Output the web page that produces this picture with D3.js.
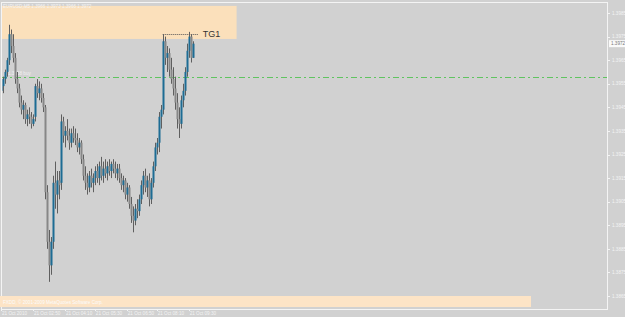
<!DOCTYPE html>
<html>
<head>
<meta charset="utf-8">
<script src="https://cdn.jsdelivr.net/npm/d3@7"></script>
<style>
body{margin:0;background:#d1d1d1;}
svg{display:block;}
text{font-family:"Liberation Sans",Arial,sans-serif;}
</style>
</head>
<body>
<svg id="chart" width="625" height="317"></svg>
<script>
// M5 bars
const symbol = "EURUSD,M5";
const open  = [1.3952,1.3954,1.3957,1.3960,1.3965,1.3976,1.3971,1.3966,1.3957,1.3953,1.3947,1.3944,1.3946,1.3940,1.3942,1.3941,1.3938,1.3941,1.3954,1.3951,
               1.3953,1.3949,1.3945,1.3909,1.3888,1.3878,1.3888,1.3913,1.3908,1.3914,1.3913,1.3939,1.3933,1.3935,1.3933,1.3930,1.3934,1.3932,1.3931,1.3928,
               1.3930,1.3923,1.3916,1.3913,1.3911,1.3916,1.3913,1.3915,1.3918,1.3915,1.3920,1.3916,1.3919,1.3917,1.3920,1.3918,1.3921,1.3919,1.3917,1.3919,
               1.3915,1.3912,1.3914,1.3908,1.3911,1.3904,1.3899,1.3897,1.3902,1.3901,1.3906,1.3912,1.3916,1.3911,1.3914,1.3906,1.3913,1.3920,1.3928,1.3930,
               1.3941,1.3944,1.3973,1.3966,1.3968,1.3961,1.3957,1.3953,1.3947,1.3940,1.3938,1.3948,1.3952,1.3960,1.3969,1.3975,1.3966];
const high  = [1.3955,1.3958,1.3961,1.3966,1.3980,1.3978,1.3976,1.3968,1.3960,1.3955,1.3950,1.3948,1.3947,1.3944,1.3945,1.3943,1.3942,1.3955,1.3957,1.3956,
               1.3955,1.3951,1.3946,1.3912,1.3893,1.3890,1.3916,1.3922,1.3918,1.3918,1.3942,1.3941,1.3937,1.3940,1.3936,1.3936,1.3937,1.3936,1.3934,1.3932,
               1.3931,1.3925,1.3920,1.3917,1.3918,1.3919,1.3917,1.3920,1.3921,1.3922,1.3924,1.3922,1.3923,1.3922,1.3923,1.3922,1.3923,1.3922,1.3921,1.3921,
               1.3917,1.3916,1.3915,1.3913,1.3912,1.3907,1.3903,1.3904,1.3906,1.3908,1.3914,1.3918,1.3919,1.3916,1.3917,1.3915,1.3922,1.3930,1.3932,1.3943,
               1.3946,1.3976,1.3975,1.3971,1.3970,1.3966,1.3962,1.3958,1.3951,1.3945,1.3950,1.3955,1.3962,1.3972,1.3977,1.3976,1.3973];
const low   = [1.3950,1.3951,1.3955,1.3958,1.3963,1.3968,1.3964,1.3955,1.3951,1.3945,1.3942,1.3940,1.3938,1.3937,1.3938,1.3936,1.3937,1.3939,1.3949,1.3948,
               1.3947,1.3943,1.3906,1.3885,1.3871,1.3874,1.3885,1.3902,1.3900,1.3906,1.3910,1.3930,1.3928,1.3931,1.3927,1.3928,1.3930,1.3929,1.3926,1.3925,
               1.3921,1.3914,1.3910,1.3908,1.3909,1.3911,1.3909,1.3912,1.3913,1.3912,1.3914,1.3913,1.3915,1.3914,1.3916,1.3915,1.3917,1.3915,1.3914,1.3913,
               1.3910,1.3909,1.3906,1.3905,1.3902,1.3896,1.3892,1.3895,1.3898,1.3899,1.3904,1.3908,1.3909,1.3907,1.3903,1.3904,1.3911,1.3918,1.3925,1.3926,
               1.3936,1.3942,1.3963,1.3960,1.3958,1.3955,1.3950,1.3944,1.3936,1.3932,1.3936,1.3945,1.3950,1.3958,1.3966,1.3964,1.3966];
const close = [1.3954,1.3957,1.3960,1.3965,1.3976,1.3971,1.3966,1.3957,1.3953,1.3947,1.3944,1.3946,1.3940,1.3942,1.3941,1.3938,1.3940,1.3954,1.3951,1.3953,
               1.3949,1.3945,1.3909,1.3888,1.3878,1.3888,1.3913,1.3908,1.3914,1.3912,1.3939,1.3933,1.3935,1.3933,1.3930,1.3934,1.3932,1.3931,1.3928,1.3930,
               1.3923,1.3916,1.3913,1.3911,1.3916,1.3913,1.3915,1.3918,1.3915,1.3920,1.3916,1.3919,1.3917,1.3920,1.3918,1.3921,1.3919,1.3917,1.3919,1.3915,
               1.3912,1.3914,1.3908,1.3911,1.3904,1.3899,1.3897,1.3902,1.3901,1.3906,1.3912,1.3916,1.3911,1.3914,1.3906,1.3913,1.3920,1.3928,1.3930,1.3941,
               1.3944,1.3973,1.3966,1.3968,1.3961,1.3957,1.3953,1.3947,1.3940,1.3938,1.3948,1.3952,1.3960,1.3969,1.3975,1.3966,1.3972];

const priceTicks = [1.3985,1.3975,1.3965,1.3955,1.3945,1.3935,1.3925,1.3915,1.3905,1.3895,1.3885,1.3875,1.3865];
const timeLabels = ["21 Oct 2010","21 Oct 02:50","21 Oct 04:10","21 Oct 05:30","21 Oct 06:50","21 Oct 08:10","21 Oct 09:30"];
const timeLabelBars = [0,16,32,47,63,78,94];

// objects on the chart
const zonePrice = [1.3974, 1.3988];
const zoneBars = [-1, 118];
const entryPrice = 1.3958;
const targetPrice = 1.3976;
const targetBars = [81, 99];
const targetName = "TG1";

const svg = d3.select("#chart");
const W = 625, H = 317;
const pLeft = 1, pRight = 607, pTop = 2, pBottom = 309;
const fs = 4.6; // MT4 tiny labels

let x = d3.scaleLinear().domain([0, 303]).range([pLeft, pRight - 1]);
let y = d3.scaleLinear().domain([1.3865, 1.3985]).range([296, 13]);

svg.append("rect").attr("width", W).attr("height", H).attr("fill", "#d1d1d1");

let plot = svg.append("g");
plot.append("clipPath").attr("id", "clip").append("rect")
    .attr("x", pLeft).attr("y", pTop).attr("width", pRight - pLeft).attr("height", pBottom - pTop);
let g = plot.append("g").attr("clip-path", "url(#clip)");

// supply zone
g.append("rect")
    .attr("x", x(zoneBars[0])).attr("width", x(zoneBars[1]) - x(zoneBars[0]))
    .attr("y", y(zonePrice[1])).attr("height", y(zonePrice[0]) - y(zonePrice[1]))
    .attr("fill", "#fbe0bb");

// entry line (dash-dot)
g.append("line").attr("x1", pLeft).attr("x2", pRight).attr("y1", Math.round(y(entryPrice)) + 0.5).attr("y2", Math.round(y(entryPrice)) + 0.5)
    .attr("stroke", "#5fc45f").attr("stroke-width", 1).attr("stroke-dasharray", "6,3,2,3");
g.append("text").attr("x", 8).attr("y", y(entryPrice) - 1.5)
    .attr("font-size", fs).attr("fill", "#f2f2f2").text(entryPrice.toFixed(4) + " buy");

// target line
g.append("line").attr("x1", x(targetBars[0])).attr("x2", x(targetBars[1]))
    .attr("y1", Math.round(y(targetPrice)) + 0.5).attr("y2", Math.round(y(targetPrice)) + 0.5)
    .attr("stroke", "#555").attr("stroke-dasharray", "1,1");
g.append("text").attr("x", x(targetBars[1]) + 4).attr("y", y(targetPrice) + 3)
    .attr("font-size", 9).attr("fill", "#333").text(targetName);

// candles
let bars = d3.range(open.length);
g.selectAll("line.wick").data(bars).join("line").attr("class", "wick")
    .attr("x1", i => Math.round(x(i)) + 0.5).attr("x2", i => Math.round(x(i)) + 0.5)
    .attr("y1", i => y(high[i])).attr("y2", i => y(low[i]))
    .attr("stroke", "#5f5f5f").attr("stroke-width", 1);
g.selectAll("rect.body").data(bars).join("rect").attr("class", "body")
    .attr("x", i => Math.round(x(i)) - 0.5).attr("width", 2)
    .attr("y", i => y(Math.max(open[i], close[i])))
    .attr("height", i => Math.max(1, Math.abs(y(open[i]) - y(close[i]))))
    .attr("fill", i => close[i] >= open[i] ? "#1d6c94" : "#878787");

// frame
svg.append("rect").attr("x", pLeft + 0.5).attr("y", pTop + 0.5).attr("width", pRight - pLeft).attr("height", pBottom - pTop)
    .attr("fill", "none").attr("stroke", "#f4f4f4").attr("stroke-width", 1);

// title
svg.append("text").attr("x", 3).attr("y", 7.5).attr("font-size", fs).attr("fill", "#f4f4f4")
    .text(symbol + "  " + [open, high, low, close].map(a => a[a.length - 1].toFixed(4)).join(" "));

// price axis
let ya = svg.append("g");
ya.selectAll("line").data(priceTicks).join("line")
    .attr("x1", pRight).attr("x2", pRight + 3)
    .attr("y1", d => Math.round(y(d)) + 0.5).attr("y2", d => Math.round(y(d)) + 0.5)
    .attr("stroke", "#f4f4f4");
ya.selectAll("text").data(priceTicks).join("text")
    .attr("x", pRight + 5).attr("y", d => y(d) + 1.7)
    .attr("font-size", fs).attr("fill", "#f4f4f4").text(d => d.toFixed(4));

// current price tag
let last = close[close.length - 1];
svg.append("rect").attr("x", pRight + 2).attr("y", y(last) - 3.5).attr("width", 16).attr("height", 7).attr("fill", "#fafafa");
svg.append("text").attr("x", pRight + 4).attr("y", y(last) + 1.7).attr("font-size", fs).attr("fill", "#777").text(last.toFixed(4));

// time axis
let xa = svg.append("g");
xa.selectAll("line").data(timeLabelBars).join("line")
    .attr("x1", d => Math.round(x(d)) + 0.5).attr("x2", d => Math.round(x(d)) + 0.5)
    .attr("y1", pBottom).attr("y2", pBottom + 2).attr("stroke", "#f4f4f4");
xa.selectAll("text").data(timeLabelBars).join("text")
    .attr("x", d => x(d) + 1).attr("y", 315)
    .attr("font-size", fs).attr("fill", "#f4f4f4").text((d, i) => timeLabels[i]);

// copyright strip
svg.append("rect").attr("x", 0).attr("y", 296).attr("width", 531).attr("height", 11).attr("fill", "#fde4c6");
svg.append("text").attr("x", 3).attr("y", 303.5).attr("font-size", fs).attr("fill", "#fbfbfb")
    .text("FXDD, \u00a9 2001-2009 MetaQuotes Software Corp.");
</script>
</body>
</html>
